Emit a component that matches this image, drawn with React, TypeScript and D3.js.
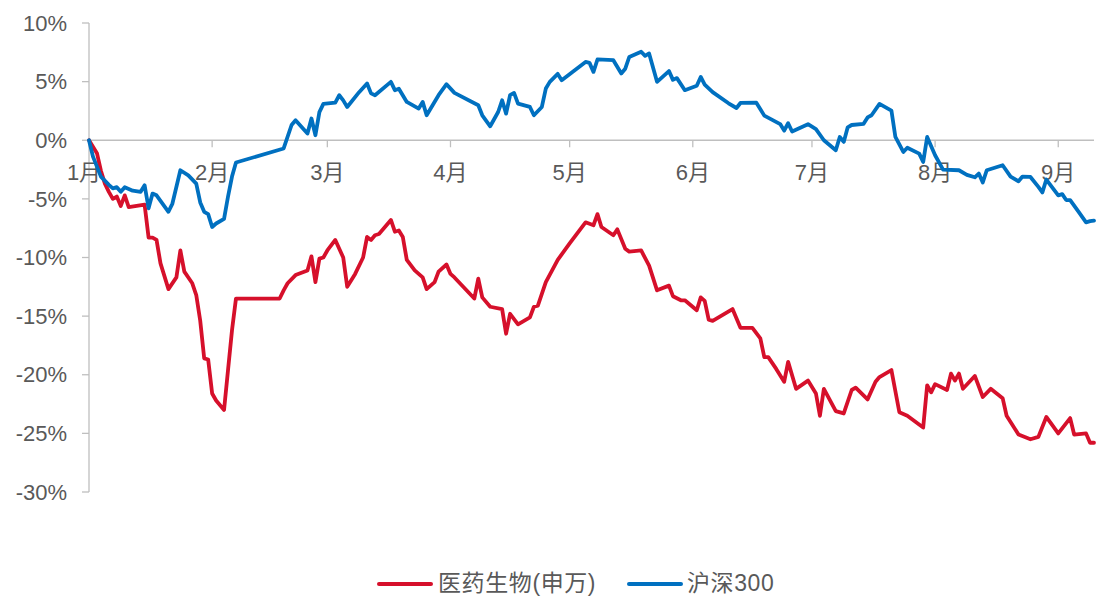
import React from "react";
import * as d3 from "d3";

// 申万医药生物指数 cumulative return (%), 2024
const healthDates = [
  "01-01","01-03","01-04","01-05","01-06","01-07","01-08","01-09","01-10","01-11",
  "01-13","01-15","01-16","01-17","01-18","01-19","01-21","01-23","01-24","01-25",
  "01-27","01-28","01-29","01-30","01-31","02-01","02-02","02-04","02-05","02-06",
  "02-07","02-18","02-19","02-20","02-22","02-25","02-26","02-27","02-28","02-29",
  "03-01","03-03","03-05","03-06","03-08","03-10","03-11","03-12","03-13","03-14",
  "03-17","03-18","03-19","03-20","03-21","03-23","03-25","03-26","03-28","03-29",
  "03-31","04-01","04-02","04-07","04-08","04-09","04-11","04-14","04-15","04-16",
  "04-18","04-21","04-22","04-23","04-25","04-28","05-01","05-05","05-07","05-08",
  "05-09","05-12","05-13","05-15","05-16","05-19","05-21","05-23","05-26","05-27",
  "05-29","05-30","06-02","06-03","06-04","06-05","06-06","06-11","06-13","06-16",
  "06-18","06-19","06-20","06-22","06-24","06-25","06-27","06-30","07-02","07-03",
  "07-04","07-07","07-09","07-11","07-12","07-15","07-17","07-18","07-21","07-23",
  "07-25","07-29","07-30","07-31","08-01","08-04","08-05","08-06","08-07","08-08",
  "08-11","08-13","08-15","08-18","08-19","08-22","08-25","08-27","08-29","09-01",
  "09-04","09-05","09-08","09-09","09-10",
];
const healthValues = [
  0, -1.1, -2.6, -3.7, -4.4, -5.0, -4.8, -5.6, -4.7, -5.7,
  -5.6, -5.5, -8.3, -8.3, -8.5, -10.5, -12.7, -11.7, -9.4, -11.2,
  -12.2, -13.2, -15.4, -18.6, -18.7, -21.6, -22.2, -23.0, -19.6, -16.2,
  -13.5, -13.5, -12.8, -12.2, -11.5, -11.1, -9.9, -12.1, -10.1, -10.0,
  -9.4, -8.5, -10.0, -12.5, -11.4, -10.0, -8.25, -8.5, -8.1, -8.0,
  -6.8, -7.8, -7.7, -8.25, -10.2, -11.1, -11.7, -12.7, -12.1, -11.2,
  -10.6, -11.4, -11.7, -13.5, -11.8, -13.4, -14.2, -14.4, -16.5, -14.8,
  -15.7, -15.1, -14.2, -14.1, -12.1, -10.2, -8.8, -7.0, -7.25, -6.3,
  -7.4, -8.1, -7.6, -9.25, -9.5, -9.4, -10.7, -12.8, -12.4, -13.3,
  -13.65, -13.65, -14.5, -13.4, -13.7, -15.3, -15.4, -14.4, -16.0, -16.0,
  -16.9, -18.5, -18.5, -19.5, -20.6, -18.9, -21.2, -20.5, -21.6, -23.5,
  -21.2, -23.1, -23.3, -21.3, -21.1, -22.1, -20.6, -20.2, -19.6, -23.2,
  -23.5, -24.5, -20.9, -21.5, -20.8, -21.3, -19.9, -20.5, -19.9, -21.2,
  -20.1, -21.9, -21.2, -22.0, -23.5, -25.1, -25.5, -25.3, -23.6, -25.0,
  -23.7, -25.1, -25.0, -25.8, -25.8,
];

// 沪深300 cumulative return (%), 2024
const csiDates = [
  "01-01","01-02","01-04","01-06","01-07","01-08","01-09","01-10","01-12","01-14",
  "01-15","01-16","01-17","01-18","01-21","01-22","01-24","01-26","01-28","01-29",
  "01-30","01-31","02-01","02-02","02-04","02-05","02-06","02-07","02-19","02-21",
  "02-22","02-25","02-26","02-27","02-28","02-29","03-03","03-04","03-05","03-06",
  "03-09","03-11","03-12","03-13","03-17","03-18","03-19","03-21","03-24","03-25",
  "03-26","03-29","03-31","04-02","04-08","04-09","04-11","04-13","04-14","04-15",
  "04-16","04-17","04-18","04-21","04-22","04-24","04-25","04-26","04-28","04-29",
  "05-05","05-06","05-07","05-08","05-12","05-14","05-15","05-16","05-19","05-20",
  "05-21","05-23","05-26","05-27","05-28","05-30","06-02","06-03","06-04","06-06",
  "06-10","06-12","06-13","06-17","06-19","06-23","06-24","06-25","06-26","06-30",
  "07-02","07-04","07-07","07-08","07-09","07-10","07-11","07-14","07-15","07-16",
  "07-18","07-21","07-22","07-24","07-25","07-28","07-29","07-30","08-01","08-03",
  "08-07","08-09","08-11","08-12","08-13","08-14","08-18","08-20","08-22","08-23",
  "08-25","08-27","08-28","08-29","09-01","09-02","09-03","09-04","09-06","09-08",
  "09-09","09-10",
];
const csiValues = [
  0, -1.4, -3.1, -3.8, -4.1, -4.0, -4.4, -4.0, -4.3, -4.4,
  -3.84, -5.8, -4.55, -4.7, -6.1, -5.4, -2.56, -3.0, -3.7, -5.3,
  -6.1, -6.3, -7.4, -7.1, -6.7, -4.8, -3.1, -1.9, -0.7, 1.3,
  1.7, 0.57, 1.85, 0.43, 2.4, 3.1, 3.2, 3.84, 3.4, 2.84,
  4.1, 4.84, 4.0, 3.84, 4.98, 4.27, 4.4, 3.27, 2.7, 3.27,
  2.13, 3.84, 4.78, 4.04, 2.99, 2.13, 1.19, 2.41, 3.41, 2.27,
  3.84, 4.04, 3.13, 2.84, 2.13, 2.84, 4.41, 4.98, 5.66, 5.12,
  6.68, 6.6, 5.83, 6.89, 6.83, 5.7, 6.1, 7.1, 7.55, 7.2,
  7.4, 4.98, 5.9, 5.15, 5.3, 4.27, 4.65, 5.4, 4.75, 4.1,
  3.15, 2.75, 3.18, 3.2, 2.1, 1.38, 0.82, 1.45, 0.75, 1.37,
  0.95, 0.0, -0.85, 0.28, -0.14, 1.1, 1.3, 1.4, 1.95, 2.13,
  3.1, 2.53, 0.28, -1.0, -0.64, -1.14, -1.85, 0.28, -1.28, -2.5,
  -2.56, -2.95, -3.16, -2.84, -3.6, -2.56, -2.13, -3.1, -3.5, -3.1,
  -3.13, -3.98, -4.45, -3.35, -4.7, -4.6, -5.1, -5.1, -6.05, -7.0,
  -6.9, -6.85,
];

const yTicks = [10, 5, 0, -5, -10, -15, -20, -25, -30];
const monthTicks = ["01-01","02-01","03-01","04-01","05-01","06-01","07-01","08-01","09-01"];
const monthLabels = ["1月","2月","3月","4月","5月","6月","7月","8月","9月"];
const seriesNames = ["医药生物(申万)", "沪深300"];

const YEAR = 2024;
const parse = (s: string) => new Date(YEAR, +s.slice(0, 2) - 1, +s.slice(3, 5));

const W = 1097;
const H = 597;
const FONT = "'Liberation Sans', Arial, 'Noto Sans CJK SC', sans-serif";
const AXIS = "#BFBFBF";
const TEXT = "#595959";
const RED = "#D6102B";
const BLUE = "#0070C0";

export default function App() {
  const x = d3
    .scaleTime()
    .domain([parse("01-01"), parse("09-10")])
    .range([89, 1094]);
  const y = d3.scaleLinear().domain([-30, 10]).range([492, 23]);

  const line = d3
    .line<[Date, number]>()
    .x((d) => x(d[0]))
    .y((d) => y(d[1]));

  const health: [Date, number][] = healthDates.map((d, i) => [parse(d), healthValues[i]]);
  const csi: [Date, number][] = csiDates.map((d, i) => [parse(d), csiValues[i]]);

  const y0 = y(0);

  return (
    <svg
      width={W}
      height={H}
      style={{ position: "absolute", left: 0, top: 0, background: "#fff" }}
      fontFamily={FONT}
    >
      {/* y axis */}
      <line x1={89} x2={89} y1={y(10)} y2={y(-30)} stroke={AXIS} strokeWidth={1.3} />
      {yTicks.map((t) => (
        <g key={t}>
          <line x1={82} x2={89} y1={y(t)} y2={y(t)} stroke={AXIS} strokeWidth={1.3} />
          <text
            x={67}
            y={y(t)}
            dy="0.35em"
            textAnchor="end"
            fontSize={22}
            fill={TEXT}
          >
            {t}%
          </text>
        </g>
      ))}

      {/* x axis on the zero line */}
      <line x1={89} x2={1094} y1={y0} y2={y0} stroke={AXIS} strokeWidth={1.3} />
      {monthTicks.map((m, i) => {
        const px = x(parse(m));
        return (
          <g key={m}>
            {i > 0 && (
              <line x1={px} x2={px} y1={y0} y2={y0 + 7} stroke={AXIS} strokeWidth={1.3} />
            )}
            <text
              x={i === 0 ? px - 5 : px}
              y={172}
              dy="0.35em"
              textAnchor="middle"
              fontSize={22}
              fill={TEXT}
            >
              {monthLabels[i]}
            </text>
          </g>
        );
      })}

      {/* series */}
      <path
        d={line(health) ?? ""}
        fill="none"
        stroke={RED}
        strokeWidth={3.8}
        strokeLinejoin="round"
        strokeLinecap="round"
      />
      <path
        d={line(csi) ?? ""}
        fill="none"
        stroke={BLUE}
        strokeWidth={3.8}
        strokeLinejoin="round"
        strokeLinecap="round"
      />

      {/* legend */}
      <g>
        <line x1={379} x2={431} y1={584} y2={584} stroke={RED} strokeWidth={4} strokeLinecap="round" />
        <text x={438} y={583} dy="0.35em" fontSize={23} letterSpacing={0.6} fill={TEXT}>
          {seriesNames[0]}
        </text>
        <line x1={629} x2={681} y1={584} y2={584} stroke={BLUE} strokeWidth={4} strokeLinecap="round" />
        <text x={687} y={583} dy="0.35em" fontSize={23} letterSpacing={0.6} fill={TEXT}>
          {seriesNames[1]}
        </text>
      </g>
    </svg>
  );
}
